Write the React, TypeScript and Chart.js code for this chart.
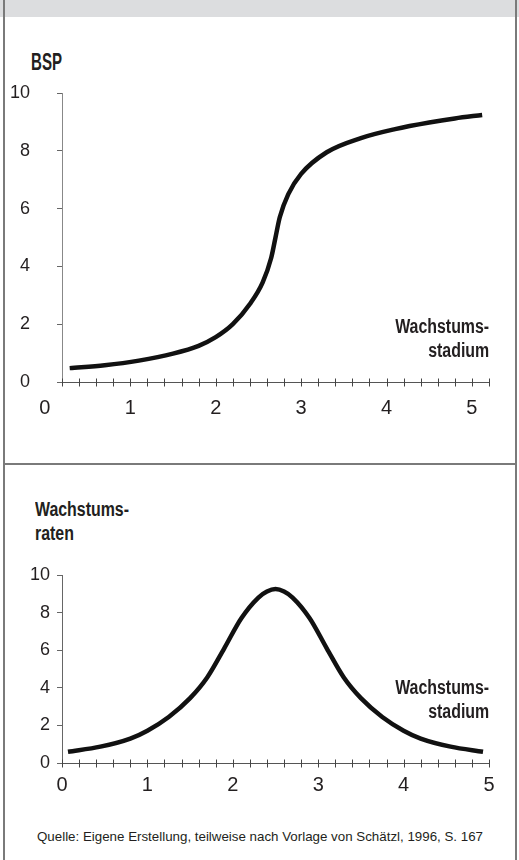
import React, { useEffect, useLayoutEffect, useRef } from "react";
import { Chart, registerables } from "chart.js";

Chart.register(...registerables);

// ---- data ----
const bspStage = [0.29, 0.7, 1.1, 1.5, 1.8, 2.0, 2.2, 2.4, 2.55, 2.65, 2.7, 2.75, 2.85, 3.0, 3.3, 3.7, 4.1, 4.5, 4.8, 5.12];
const bspValues = [0.48, 0.58, 0.74, 0.98, 1.25, 1.55, 2.0, 2.7, 3.45, 4.3, 5.0, 5.7, 6.5, 7.2, 7.95, 8.44, 8.75, 8.98, 9.12, 9.24];

const rateStage = [0.07, 0.45, 0.8, 1.0, 1.25, 1.5, 1.7, 1.9, 2.1, 2.3, 2.4, 2.5, 2.6, 2.7, 2.9, 3.1, 3.3, 3.5, 3.75, 4.0, 4.2, 4.55, 4.93];
const rateValues = [0.6, 0.87, 1.3, 1.72, 2.45, 3.45, 4.55, 6.1, 7.7, 8.8, 9.12, 9.25, 9.12, 8.8, 7.7, 6.1, 4.55, 3.45, 2.45, 1.72, 1.3, 0.87, 0.6];

const yTickStep = 2;
const yMax = 10;
const xMinorStep = 0.2;
const chart1XRange = [0.2, 5.2];
const chart2XRange = [0, 5];

const yTitle1 = "BSP";
const yTitle2 = ["Wachstums-", "raten"];
const xTitle = ["Wachstums-", "stadium"];
const sourceText = "Quelle: Eigene Erstellung, teilweise nach Vorlage von Schätzl, 1996, S. 167";

const FONT = "'Liberation Sans', Arial, sans-serif";
const TEXT = "#231f20";

const crossTicks = {
  id: "crossTicks",
  afterDraw(chart: any) {
    const xs = chart.scales.x;
    const ys = chart.scales.y;
    const ctx = chart.ctx;
    const y0 = Math.round(ys.getPixelForValue(0)) + 0.5;
    ctx.save();
    ctx.strokeStyle = "#444";
    ctx.lineWidth = 1;
    xs.ticks.forEach((t: any) => {
      if (t.value < xs.min - 1e-9 || t.value > xs.max + 1e-9) return;
      const px = Math.round(xs.getPixelForValue(t.value)) + 0.5;
      ctx.beginPath();
      ctx.moveTo(px, y0 - 4);
      ctx.lineTo(px, y0 + 4);
      ctx.stroke();
    });
    ctx.restore();
  },
};

function buildTickValues(from: number, to: number) {
  const out: { value: number }[] = [];
  const n = Math.round((to - from) / xMinorStep);
  for (let i = 0; i <= n; i++) out.push({ value: Math.round((from + i * xMinorStep) * 1000) / 1000 });
  return out;
}

function makeChart(
  canvas: HTMLCanvasElement,
  xs: number[],
  ys: number[],
  xRange: number[],
  tickFrom: number,
  pad: { top: number; right: number },
  yLabelPad: number,
  xLabelPad: number,
  yAxisColor: string
) {
  return new Chart(canvas, {
    type: "line",
    data: {
      datasets: [
        {
          data: xs.map((x, i) => ({ x, y: ys[i] })),
          borderColor: "#111",
          borderWidth: 4.5,
          pointRadius: 0,
          fill: false,
          cubicInterpolationMode: "monotone",
        },
      ],
    },
    options: {
      animation: false,
      responsive: false,
      devicePixelRatio: 1,
      layout: { padding: { top: pad.top, right: pad.right, bottom: 0, left: 0 } },
      plugins: { legend: { display: false }, tooltip: { enabled: false } },
      scales: {
        x: {
          type: "linear",
          min: xRange[0],
          max: xRange[1],
          afterBuildTicks: (scale: any) => {
            scale.ticks = buildTickValues(tickFrom, xRange[1]);
          },
          afterFit: (scale: any) => {
            scale.height = 40;
          },
          grid: { display: true, drawOnChartArea: false, drawTicks: false },
          border: { display: true, color: "#555", width: 1 },
          ticks: {
            autoSkip: false,
            maxRotation: 0,
            minRotation: 0,
            padding: xLabelPad,
            color: TEXT,
            font: { family: FONT, size: 20 },
            callback: (v: any) => (Math.abs(v - Math.round(v)) < 1e-6 ? String(Math.round(v)) : ""),
          },
        },
        y: {
          type: "linear",
          min: 0,
          max: yMax,
          afterFit: (scale: any) => {
            scale.width = 62;
            scale.paddingTop = 0;
            scale.paddingBottom = 0;
          },
          grid: { display: true, drawOnChartArea: false, drawTicks: true, tickLength: 5, color: "#666" },
          border: { display: true, color: yAxisColor, width: 1 },
          ticks: {
            stepSize: yTickStep,
            padding: yLabelPad,
            color: TEXT,
            font: { family: FONT, size: 18 },
          },
        },
      },
    },
    plugins: [crossTicks],
  } as any);
}

function FitText({
  lines,
  left,
  right,
  top,
  width,
  size,
  bold,
  lineHeight,
}: {
  lines: string[];
  left?: number;
  right?: number;
  top: number;
  width: number;
  size: number;
  bold?: boolean;
  lineHeight: number;
}) {
  const ref = useRef<HTMLDivElement>(null);
  useLayoutEffect(() => {
    const el = ref.current;
    if (!el) return;
    el.style.transform = "none";
    const w = el.getBoundingClientRect().width;
    if (w > 0) el.style.transform = `scaleX(${width / w})`;
  }, []);
  const alignRight = right !== undefined;
  return (
    <div
      ref={ref}
      style={{
        position: "absolute",
        top,
        left: alignRight ? undefined : left,
        right: alignRight ? right : undefined,
        display: "inline-block",
        whiteSpace: "nowrap",
        fontFamily: FONT,
        fontSize: size,
        fontWeight: bold ? 700 : 400,
        lineHeight: `${lineHeight}px`,
        color: TEXT,
        textAlign: alignRight ? "right" : "left",
        transformOrigin: alignRight ? "right top" : "left top",
      }}
    >
      {lines.map((l, i) => (
        <React.Fragment key={i}>
          {l}
          {i < lines.length - 1 ? <br /> : null}
        </React.Fragment>
      ))}
    </div>
  );
}

export default function App() {
  const c1 = useRef<HTMLCanvasElement>(null);
  const c2 = useRef<HTMLCanvasElement>(null);

  useEffect(() => {
    const ch1 = makeChart(c1.current!, bspStage, bspValues, chart1XRange, 0, { top: 13, right: 30 }, 27, 14, "#888");
    const ch2 = makeChart(c2.current!, rateStage, rateValues, chart2XRange, 0, { top: 15, right: 30 }, 7, 10, "#666");
    return () => {
      ch1.destroy();
      ch2.destroy();
    };
  }, []);

  const line = "#7a7a7a";
  return (
    <div
      style={{
        position: "absolute",
        left: 0,
        top: 0,
        width: 519,
        height: 860,
        background: "#fff",
        overflow: "hidden",
      }}
    >
      <div style={{ position: "absolute", left: 0, top: 0, width: 519, height: 17, background: "#dcdddf" }} />
      <canvas ref={c1} width={519} height={342} style={{ position: "absolute", left: 0, top: 80 }} />
      <canvas ref={c2} width={519} height={243} style={{ position: "absolute", left: 0, top: 560 }} />

      <FitText lines={[yTitle1]} left={31} top={50} width={31} size={24} bold lineHeight={24} />
      <FitText lines={xTitle} right={30} top={314} width={94} size={20} bold lineHeight={24} />
      <FitText lines={yTitle2} left={35} top={497} width={94} size={20} bold lineHeight={24} />
      <FitText lines={xTitle} right={30} top={675} width={94} size={20} bold lineHeight={24} />
      <FitText lines={[sourceText]} left={37} top={830} width={446} size={13} lineHeight={13} />

      <div style={{ position: "absolute", left: 3, top: 0, width: 2, height: 860, background: line }} />
      <div style={{ position: "absolute", left: 515, top: 0, width: 2, height: 860, background: line }} />
      <div style={{ position: "absolute", left: 3, top: 463, width: 514, height: 2, background: line }} />
    </div>
  );
}
